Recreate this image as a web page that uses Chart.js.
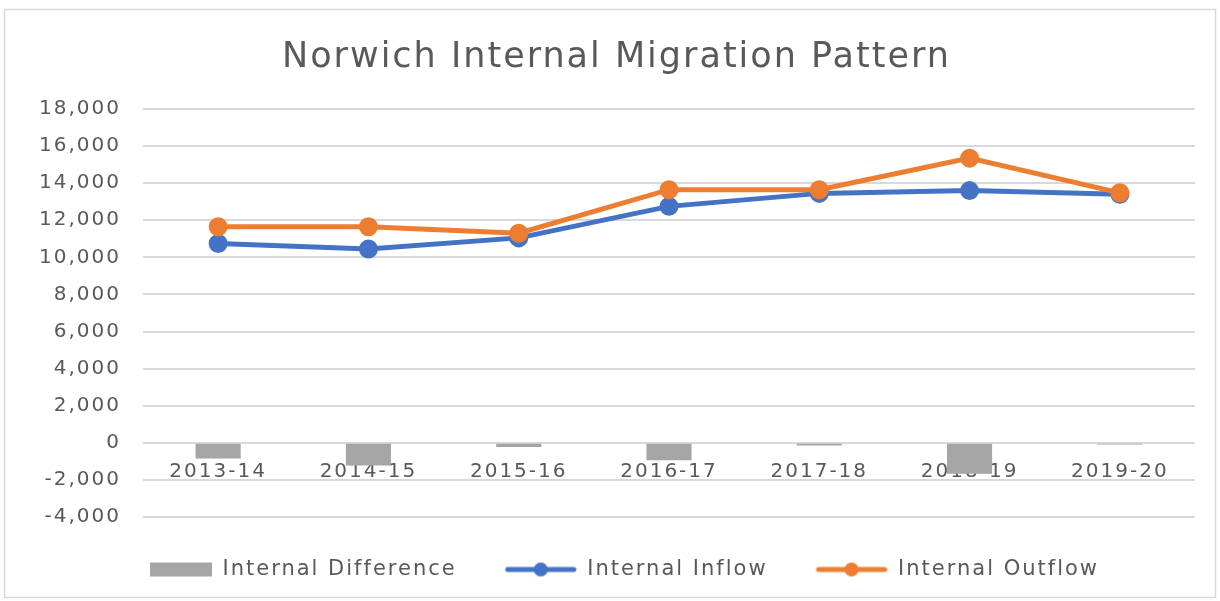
<!DOCTYPE html>
<html lang="en">
<head>
  <meta charset="UTF-8">
  <title>Norwich Internal Migration Pattern</title>
  <script src="https://cdn.jsdelivr.net/npm/chart.js"></script>
  <style>
    body { margin: 0; background: #fff; }
    #wrap { position: relative; width: 1220px; height: 601px; }
  </style>
</head>
<body>
  <div id="wrap"><canvas id="migrationChart" width="1220" height="601"></canvas></div>
  <script>
    const years = ['2013-14', '2014-15', '2015-16', '2016-17', '2017-18', '2018-19', '2019-20'];
    const internalInflow = [10750, 10450, 11050, 12750, 13450, 13600, 13400];
    const internalOutflow = [11650, 11650, 11300, 13650, 13650, 15350, 13480];
    const internalDifference = [-850, -1220, -220, -940, -140, -1670, -90];
    const yTicks = { min: -4000, max: 18000, step: 2000 };

    const textGrey = '#595959';
    const fontFamily = '"DejaVu Sans", sans-serif';

    // legend swatches: plain box for the bars, line with a dot for the lines
    // (a little blank on the left widens the gap between legend items)
    function swatch(color, withLine) {
      const c = document.createElement('canvas');
      c.width = 78;
      c.height = 16;
      const ctx = c.getContext('2d');
      ctx.fillStyle = color;
      if (withLine) {
        ctx.strokeStyle = color;
        ctx.lineWidth = 5;
        ctx.lineCap = 'round';
        ctx.beginPath();
        ctx.moveTo(9, 8);
        ctx.lineTo(75, 8);
        ctx.stroke();
        ctx.beginPath();
        ctx.arc(42, 8, 7, 0, Math.PI * 2);
        ctx.fill();
      } else {
        ctx.fillRect(16, 1, 62, 14);
      }
      return c;
    }

    // the original text is a bit wider than any installed font
    const spacing = {
      id: 'spacing',
      beforeUpdate(chart) { chart.ctx.letterSpacing = '2px'; },
      beforeDraw(chart) {
        const ctx = chart.ctx;
        ctx.letterSpacing = '2px';
        ctx.save();
        ctx.strokeStyle = '#d9d9d9';
        ctx.lineWidth = 1.5;
        ctx.strokeRect(4.5, 9.5, 1211, 588);
        ctx.restore();
      }
    };

    new Chart(document.getElementById('migrationChart'), {
      data: {
        labels: years,
        datasets: [
          {
            type: 'bar',
            label: 'Internal Difference',
            data: internalDifference,
            backgroundColor: '#a5a5a5',
            barPercentage: 0.3,
            categoryPercentage: 1,
            order: 3
          },
          {
            type: 'line',
            label: 'Internal Inflow',
            data: internalInflow,
            borderColor: '#4472c4',
            backgroundColor: '#4472c4',
            borderWidth: 5,
            pointRadius: 7,
            pointHoverRadius: 7,
            tension: 0,
            order: 2
          },
          {
            type: 'line',
            label: 'Internal Outflow',
            data: internalOutflow,
            borderColor: '#ed7d31',
            backgroundColor: '#ed7d31',
            borderWidth: 5,
            pointRadius: 7,
            pointHoverRadius: 7,
            tension: 0,
            order: 1
          }
        ]
      },
      options: {
        responsive: false,
        animation: false,
        layout: { padding: { left: 38, right: 25, top: 10, bottom: 11 } },
        plugins: {
          title: {
            display: true,
            text: 'Norwich Internal Migration Pattern',
            color: textGrey,
            font: { family: fontFamily, size: 35, weight: 'normal' },
            padding: { top: 27, bottom: 30 }
          },
          legend: {
            position: 'bottom',
            labels: {
              usePointStyle: true,
              pointStyleWidth: 78,
              color: textGrey,
              font: { family: fontFamily, size: 21 },
              padding: 42,
              generateLabels(chart) {
                const colors = ['#a5a5a5', '#4472c4', '#ed7d31'];
                return chart.data.datasets.map((ds, i) => ({
                  text: ds.label,
                  fontColor: textGrey,
                  pointStyle: swatch(colors[i], i > 0),
                  datasetIndex: i,
                  hidden: false,
                  lineWidth: 0
                }));
              }
            }
          },
          tooltip: { enabled: false }
        },
        scales: {
          x: {
            position: { y: 0 },
            grid: { display: false },
            border: { display: false },
            ticks: {
              color: textGrey,
              font: { family: fontFamily, size: 20 },
              padding: 9
            }
          },
          y: {
            min: yTicks.min,
            max: yTicks.max,
            afterFit(scale) { scale.width = 105; },
            grid: { color: '#d9d9d9', lineWidth: 2, drawTicks: false },
            border: { display: false },
            ticks: {
              stepSize: yTicks.step,
              color: textGrey,
              font: { family: fontFamily, size: 20 },
              padding: 22,
              callback: v => v.toLocaleString('en-US')
            }
          }
        }
      },
      plugins: [spacing]
    });
  </script>
</body>
</html>
